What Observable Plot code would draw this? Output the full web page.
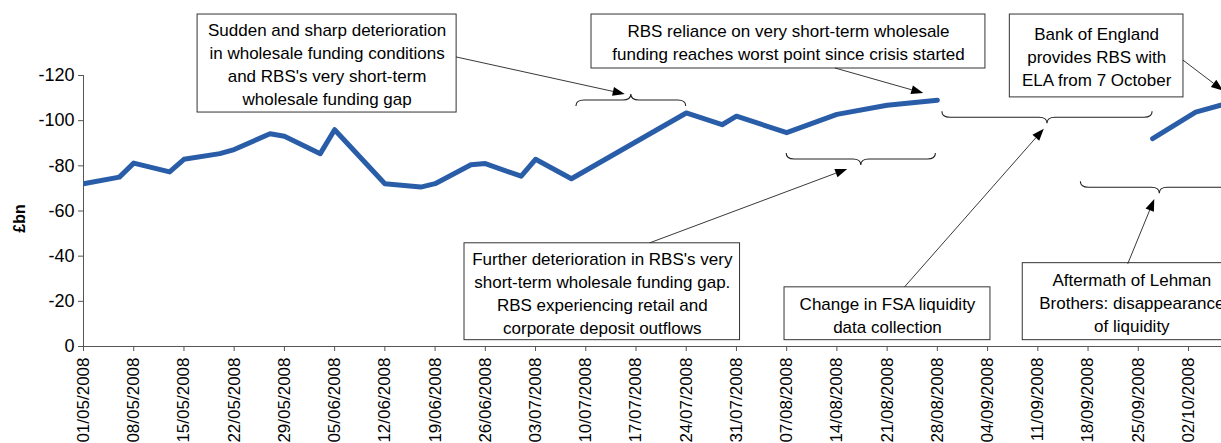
<!DOCTYPE html>
<html>
<head>
<meta charset="utf-8">
<script src="https://cdn.jsdelivr.net/npm/d3@7"></script>
<script src="https://cdn.jsdelivr.net/npm/@observablehq/plot@0.6"></script>
<style>
html, body { margin: 0; padding: 0; background: #fff; overflow: hidden; }
#chart svg { display: block; overflow: hidden; }
</style>
</head>
<body>
<div id="chart"></div>
<script>
// ---- Data: RBS very short-term wholesale funding gap (£bn) ----
const dates = [
  "2008-05-01","2008-05-06","2008-05-08","2008-05-13","2008-05-15","2008-05-20","2008-05-22",
  "2008-05-27","2008-05-29","2008-06-03","2008-06-05","2008-06-12","2008-06-17","2008-06-19",
  "2008-06-24","2008-06-26","2008-07-01","2008-07-03","2008-07-08","2008-07-24","2008-07-29",
  "2008-07-31","2008-08-07","2008-08-14","2008-08-21","2008-08-28","2008-09-04","2008-09-27",
  "2008-10-03","2008-10-09"
];
const values = [
  -72.1, -75.0, -81.2, -77.3, -82.9, -85.4, -87.2,
  -94.2, -93.1, -85.4, -96.0, -72.1, -70.6, -72.1,
  -80.5, -81.0, -75.4, -82.9, -74.3, -103.4, -98.2,
  -102.0, -94.7, -102.8, -106.8, -109.0, null, -92.0,
  -103.8, -109.0
];

// ---- Axis ticks ----
const yTicks = [0, -20, -40, -60, -80, -100, -120];
const xTickLabels = [
  "01/05/2008","08/05/2008","15/05/2008","22/05/2008","29/05/2008","05/06/2008","12/06/2008",
  "19/06/2008","26/06/2008","03/07/2008","10/07/2008","17/07/2008","24/07/2008","31/07/2008",
  "07/08/2008","14/08/2008","21/08/2008","28/08/2008","04/09/2008","11/09/2008","18/09/2008",
  "25/09/2008","02/10/2008"
];
const yLabel = "£bn";

// ---- Annotations (x in days since 1 May 2008, y in £bn) ----
const boxTexts = [
  "Sudden and sharp deterioration\nin wholesale funding conditions\nand RBS's very short-term\nwholesale funding gap",
  "RBS reliance on very short-term wholesale\nfunding reaches worst point since crisis started",
  "Bank of England\nprovides RBS with\nELA from 7 October",
  "Change in FSA liquidity\ndata collection",
  "Further deterioration in RBS's very\nshort-term wholesale funding gap.\nRBS experiencing retail and\ncorporate deposit outflows",
  "Aftermath of Lehman\nBrothers: disappearance\nof liquidity"
];
const boxDays = [[15.9, 52.0], [70.8, 125.7], [129.1, 153.3], [97.7, 126.4], [53.1, 91.5], [130.9, 161.3]];
const boxValues = [[-147.0, -103.6], [-147.0, -123.1], [-147.0, -110.3], [-26.2, -2.8], [-45.7, -2.8], [-36.9, -2.8]];

const arrowFrom = [[52.0, -128.0], [104.8, -123.1], [153.3, -126.6], [114.5, -26.2], [79.0, -45.7], [145.6, -36.4]];
const arrowTo   = [[75.5, -111.6], [117.1, -112.0], [158.9, -113.1], [133.9, -96.2], [106.5, -78.4], [149.3, -65.1]];

const braceDays = [[68.7, 84.0], [119.7, 149.0], [98.0, 118.8], [139.0, 161.0]];
const braceValues = [-108.9, -101.3, -82.8, -70.3];
const braceTip = ["up", "down", "down", "down"];

// ---- Build ----
const day0 = Date.UTC(2008, 4, 1);
const at = n => new Date(day0 + n * 864e5);
const parseUTC = s => new Date(s + "T00:00:00Z");
const parseDMY = s => { const [d, m, y] = s.split("/").map(Number); return new Date(Date.UTC(y, m - 1, d)); };

const data = dates.map((d, i) => ({date: parseUTC(d), value: values[i]}));
const boxes = boxTexts.map((t, i) => ({
  text: t,
  x1: at(boxDays[i][0]), x2: at(boxDays[i][1]),
  xc: at((boxDays[i][0] + boxDays[i][1]) / 2),
  y1: boxValues[i][0], y2: boxValues[i][1],
  yc: (boxValues[i][0] + boxValues[i][1]) / 2
}));
const labelData = [{date: at(0), value: -56.7, text: yLabel}];

function annotations(index, scales) {
  const x = scales.x, y = scales.y;
  const g = d3.create("svg:g");
  const d = 6, r = 8;
  braceDays.forEach((bd, i) => {
    const xa = x(at(bd[0])), xb = x(at(bd[1])), xm = (xa + xb) / 2;
    const yf = y(braceValues[i]);
    const s = braceTip[i] === "up" ? -1 : 1;
    const ye = yf - s * d, yt = yf + s * d;
    const p = d3.path();
    p.moveTo(xa, ye);
    p.quadraticCurveTo(xa, yf, xa + r, yf);
    p.lineTo(xm - r, yf);
    p.quadraticCurveTo(xm, yf, xm, yt);
    p.quadraticCurveTo(xm, yf, xm + r, yf);
    p.lineTo(xb - r, yf);
    p.quadraticCurveTo(xb, yf, xb, ye);
    g.append("path").attr("d", p.toString()).attr("fill", "none").attr("stroke", "#222").attr("stroke-width", 1.1);
  });
  arrowFrom.forEach((f, i) => {
    const t = arrowTo[i];
    const x1 = x(at(f[0])), y1 = y(f[1]), x2 = x(at(t[0])), y2 = y(t[1]);
    const ang = Math.atan2(y2 - y1, x2 - x1), L = 12, W = 4.5;
    const bx = x2 - L * Math.cos(ang), by = y2 - L * Math.sin(ang);
    g.append("line").attr("x1", x1).attr("y1", y1).attr("x2", bx).attr("y2", by)
      .attr("stroke", "#222").attr("stroke-width", 0.9);
    g.append("polygon")
      .attr("points", [[x2, y2], [bx + W * Math.sin(ang), by - W * Math.cos(ang)], [bx - W * Math.sin(ang), by + W * Math.cos(ang)]].map(p => p.join(",")).join(" "))
      .attr("fill", "#000");
  });
  return g.node();
}

const chart = Plot.plot({
  width: 1221,
  height: 443,
  marginLeft: 83,
  marginRight: 0,
  marginTop: 75,
  marginBottom: 97,
  style: {fontFamily: "'Liberation Sans', Arial, sans-serif", fontSize: "17px", color: "#000", background: "#fff", overflow: "hidden"},
  x: {type: "utc", domain: [at(0), at(158.6)]},
  y: {domain: [0, -120]},
  marks: [
    Plot.ruleY([0], {stroke: "#555", strokeWidth: 1}),
    Plot.ruleX([at(0)], {y1: 0, y2: -120, stroke: "#555", strokeWidth: 1}),
    Plot.axisY({ticks: yTicks, tickFormat: d => String(d), tickSize: 5, tickPadding: 4, stroke: "#555", fill: "#000", fontSize: 18, label: null}),
    Plot.axisX({ticks: xTickLabels.map(parseDMY), tickFormat: d3.utcFormat("%d/%m/%Y"), tickRotate: -90, tickSize: 5, tickPadding: 6, stroke: "#555", fill: "#000", fontSize: 17, label: null}),
    Plot.line(data, {x: "date", y: "value", stroke: "#2a5da8", strokeWidth: 5, strokeLinejoin: "round", clip: true}),
    Plot.rect(boxes, {x1: "x1", x2: "x2", y1: "y1", y2: "y2", fill: "#fff", stroke: "#333", strokeWidth: 1}),
    Plot.text(boxes, {x: "xc", y: "yc", text: "text", lineHeight: 1.35, fontSize: 17, fill: "#000"}),
    annotations,
    Plot.text(labelData, {x: "date", y: "value", text: "text", rotate: -90, dx: -64, fontWeight: "bold", fontSize: 16, fill: "#000"})
  ]
});
document.getElementById("chart").appendChild(chart);
</script>
</body>
</html>
